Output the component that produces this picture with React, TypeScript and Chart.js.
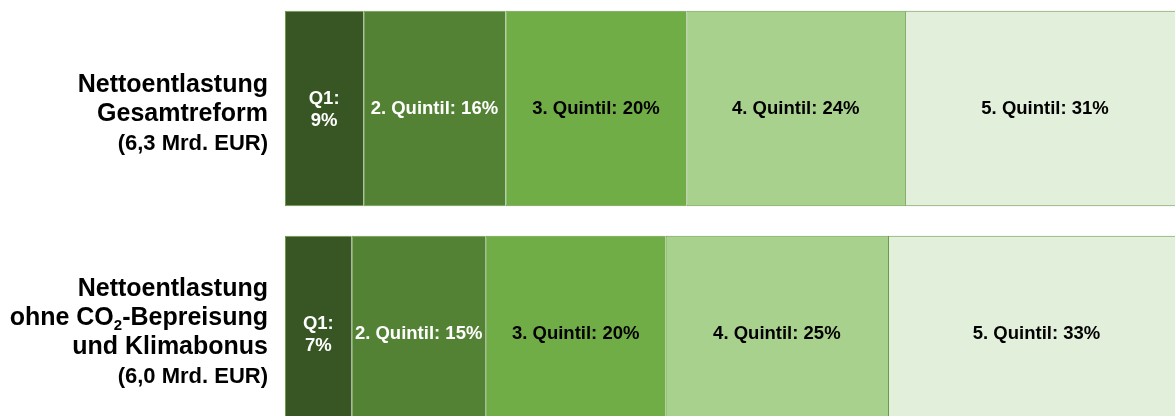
import React, { useEffect, useRef } from "react";
import { Chart, registerables } from "chart.js";

Chart.register(...registerables);

const categoryLines: string[][] = [
  ["Nettoentlastung", "Gesamtreform", "(6,3 Mrd. EUR)"],
  ["Nettoentlastung", "ohne CO₂-Bepreisung", "und Klimabonus", "(6,0 Mrd. EUR)"],
];
const seriesNames = ["Q1", "2. Quintil", "3. Quintil", "4. Quintil", "5. Quintil"];
// shares in percent (Gesamtreform, ohne CO2-Bepreisung)
const q1 = [8.7, 7.4];
const q2 = [15.8, 14.9];
const q3 = [20.1, 20.0];
const q4 = [24.3, 24.7];
const q5 = [31.1, 33.0];
const seriesValues = [q1, q2, q3, q4, q5];

const colors = ["#375623", "#548235", "#70ad47", "#a9d18e", "#e2efda"];
const textColors = ["#ffffff", "#ffffff", "#000000", "#000000", "#000000"];
const FONT = "'Liberation Sans', Arial, sans-serif";

const labelPlugin = {
  id: "segLabels",
  afterDatasetsDraw(chart: any) {
    const ctx = chart.ctx;
    ctx.save();
    ctx.textAlign = "center";
    ctx.textBaseline = "middle";
    ctx.font = `bold 18.5px ${FONT}`;
    chart.data.datasets.forEach((ds: any, i: number) => {
      const meta = chart.getDatasetMeta(i);
      meta.data.forEach((el: any, j: number) => {
        const p = el.getProps(["x", "y", "base"], true);
        const cx = (p.x + p.base) / 2;
        const cy = p.y;
        const v = Math.round(ds.data[j]);
        ctx.fillStyle = textColors[i];
        if (i === 0) {
          ctx.fillText(`${seriesNames[i]}:`, cx, cy - 10);
          ctx.fillText(`${v}%`, cx, cy + 12);
        } else {
          ctx.fillText(`${seriesNames[i]}: ${v}%`, cx, cy + 0.5);
        }
      });
    });
    ctx.restore();
  },
};

const axisLabelPlugin = {
  id: "leftLabels",
  afterDraw(chart: any) {
    const ctx = chart.ctx;
    const yScale = chart.scales.y;
    const rightX = chart.chartArea.left - 17;
    const lineGap = 29;
    ctx.save();
    ctx.textBaseline = "middle";
    ctx.fillStyle = "#000000";
    categoryLines.forEach((lines, j) => {
      const n = lines.length;
      const cy = yScale.getPixelForValue(j) + 6 - (n - 3) * 6.5;
      lines.forEach((line, k) => {
        const y = cy + (k - (n - 1) / 2) * lineGap;
        const isLast = k === n - 1;
        const mainFont = `bold ${isLast ? 22 : 25}px ${FONT}`;
        const subFont = `bold 15px ${FONT}`;
        if (line.includes("₂")) {
          const [pre, post] = line.split("₂");
          ctx.font = mainFont;
          const wPre = ctx.measureText(pre).width;
          const wPost = ctx.measureText(post).width;
          ctx.font = subFont;
          const wSub = ctx.measureText("2").width;
          let x = rightX - (wPre + wSub + wPost);
          ctx.textAlign = "left";
          ctx.font = mainFont;
          ctx.fillText(pre, x, y);
          x += wPre;
          ctx.font = subFont;
          ctx.fillText("2", x, y + 7);
          x += wSub;
          ctx.font = mainFont;
          ctx.fillText(post, x, y);
        } else {
          ctx.font = mainFont;
          ctx.textAlign = "right";
          ctx.fillText(line, rightX, y);
        }
      });
    });
    ctx.restore();
  },
};

export default function App() {
  const canvasRef = useRef<HTMLCanvasElement | null>(null);

  useEffect(() => {
    document.body.style.margin = "0";
    document.body.style.overflow = "hidden";
    const canvas = canvasRef.current;
    if (!canvas) return;
    const chart = new Chart(canvas, {
      type: "bar",
      data: {
        labels: categoryLines.map((l) => l.join(" ")),
        datasets: seriesNames.map((name, i) => ({
          label: name,
          data: seriesValues[i],
          backgroundColor: colors[i],
          borderColor: "#6b9a4b",
          borderWidth: { top: 1, bottom: 1, left: 1, right: 0 },
          borderSkipped: false,
          categoryPercentage: 1,
          barPercentage: 0.868,
        })),
      },
      options: {
        indexAxis: "y",
        responsive: true,
        maintainAspectRatio: false,
        animation: false,
        layout: { padding: { left: 285, right: 15, top: 0, bottom: 0 } },
        plugins: {
          legend: { display: false },
          tooltip: { enabled: false },
        },
        scales: {
          x: { stacked: true, min: 0, max: 100, display: false },
          y: { stacked: true, display: false },
        },
      },
      plugins: [labelPlugin, axisLabelPlugin],
    } as any);
    return () => chart.destroy();
  }, []);

  return (
    <div
      style={{
        position: "fixed",
        left: 0,
        top: 0,
        width: 1175,
        height: 416,
        overflow: "hidden",
        background: "#ffffff",
      }}
    >
      <div style={{ position: "absolute", left: 0, top: -4, width: 1200, height: 450 }}>
        <canvas ref={canvasRef} />
      </div>
    </div>
  );
}
